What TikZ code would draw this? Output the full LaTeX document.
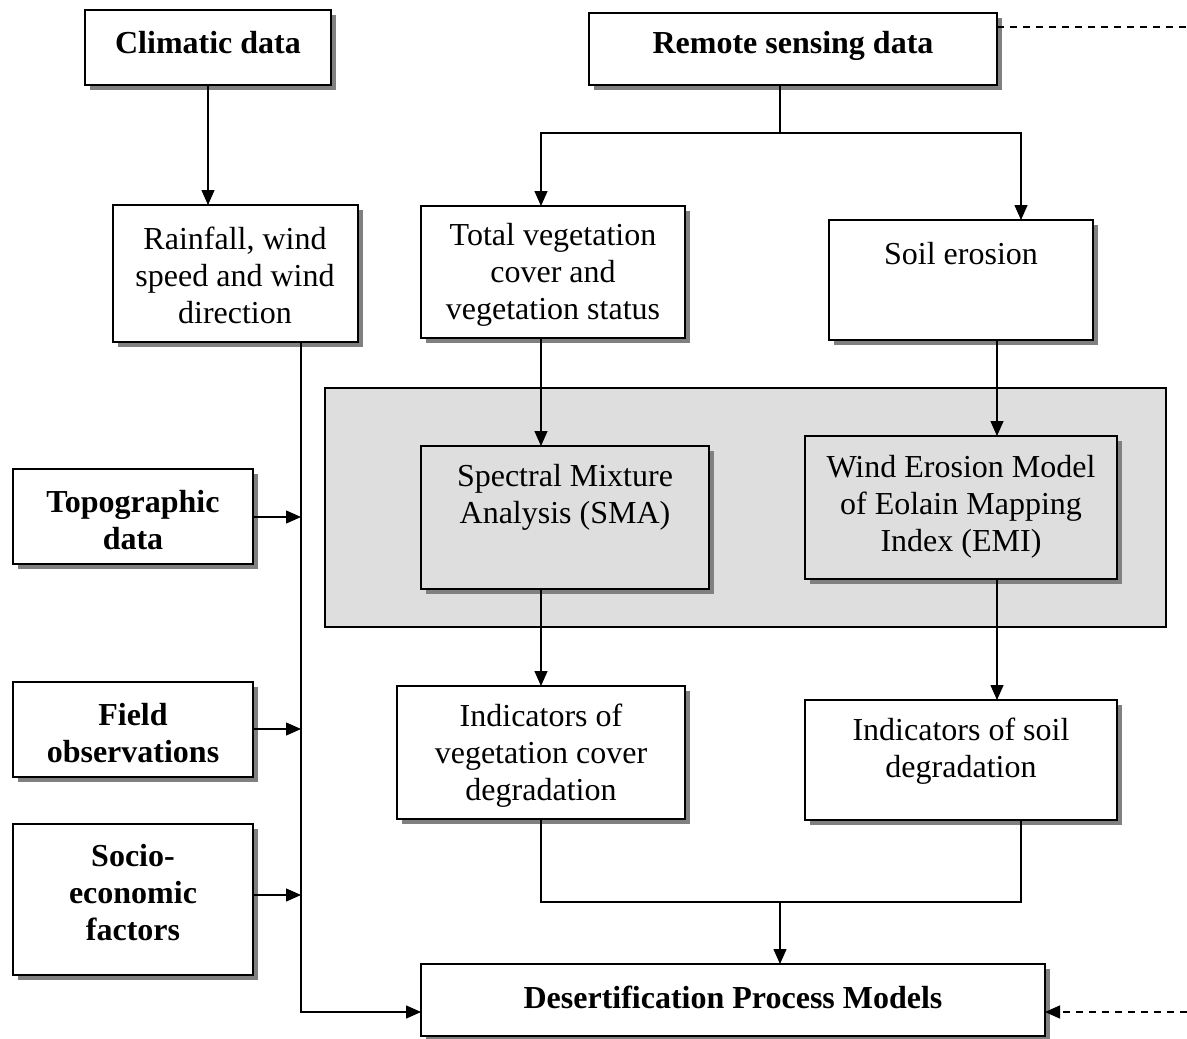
\documentclass[tikz,border=0pt]{standalone}
\usepackage{fontspec}
\setmainfont{Liberation Serif}
\usetikzlibrary{shadows,arrows.meta}
\newcommand{\mybox}[6][]{\node[box, #1, minimum width={(#5-#3)*1pt}, minimum height={(#6-#4)*1pt}] (#2) at ({(#3+#5)/2},{(#4+#6)/2}) {};}
\begin{document}
\begin{tikzpicture}[x=1pt,y=-1pt,
  box/.style={draw=black, line width=1.8pt, fill=white, inner sep=0pt, outer sep=0pt,
    general shadow={fill=black!50, shadow xshift=5pt, shadow yshift=-5pt}},
  panelfill/.style={fill=black!13},
  panel/.style={draw=black, line width=1.8pt, panelfill},
  txt/.style={align=center, inner sep=0pt, font=\fontsize{32}{37}\selectfont},
  btxt/.style={align=center, inner sep=0pt, font=\fontsize{32}{37}\selectfont\bfseries},
  arr/.style={line width=1.3pt, -{Triangle[length=15pt,width=13pt]}},
  ln/.style={line width=1.3pt},
  dsh/.style={line width=1.3pt, dash pattern=on 7pt off 6pt}]
\useasboundingbox (0,0) rectangle (1187,1039);
% panel
\filldraw[panel] (325,388) rectangle (1166,627);
% boxes
\mybox{clim}{85}{10}{331}{85}
\mybox{rs}{589}{13}{997}{85}
\mybox{rain}{113}{205}{358}{342}
\mybox{tv}{421}{206}{685}{338}
\mybox{se}{829}{220}{1093}{340}
\mybox[panelfill]{sma}{421}{446}{709}{589}
\mybox[panelfill]{emi}{805}{436}{1117}{579}
\mybox{iv}{397}{686}{685}{819}
\mybox{is}{805}{700}{1117}{820}
\mybox{dm}{421}{964}{1045}{1036}
\mybox{topo}{13}{469}{253}{564}
\mybox{field}{13}{682}{253}{777}
\mybox{socio}{13}{824}{253}{975}
% texts
\node[btxt] (tclim) at (208,43) {Climatic data};
\node[btxt] (trs) at (793,46) {Remote sensing data};
\node[txt] (train) at (235,275) {Rainfall, wind\\speed and wind\\direction};
\node[txt] (ttv) at (553,275) {Total vegetation\\cover and\\vegetation status};
\node[txt] (tse) at (961,254) {Soil erosion};
\node[txt] (tsma) at (565,497) {Spectral Mixture\\Analysis (SMA)};
\node[txt] (temi) at (961,507) {Wind Erosion Model\\of Eolain Mapping\\Index (EMI)};
\node[txt] (tiv) at (541,756) {Indicators of\\vegetation cover\\degradation};
\node[txt] (tis) at (961,751) {Indicators of soil\\degradation};
\node[btxt] (tdm) at (733,997) {Desertification Process Models};
\node[btxt] (ttopo) at (133,520) {Topographic\\data};
\node[btxt] (tfield) at (133,733) {Field\\observations};
\node[btxt] (tsocio) at (133,893) {Socio-\\economic\\factors};
% coordinates
\coordinate (c1) at (541,0);
\coordinate (c2) at (997,0);
\coordinate (c3) at (1021,0);
\coordinate (rsj) at (780,133);
\coordinate (trunk) at (301,0);
\coordinate (merge) at (780,902);
\coordinate (dmy) at (0,1012);
\coordinate (rsy) at (0,27);
\coordinate (redge) at (1187,0);
\coordinate (ya) at (0,517);
\coordinate (yb) at (0,729);
\coordinate (yc) at (0,895);
% connectors
\draw[arr] (clim.south) -- (clim.south |- rain.north);
\draw[ln] (rs.south -| rsj) -- (rsj);
\draw[arr] (rsj) -| (tv.north -| c1);
\draw[arr] (rsj) -| (se.north -| c3);
\draw[arr] (tv.south -| c1) -- (sma.north -| c1);
\draw[arr] (se.south -| c2) -- (emi.north -| c2);
\draw[arr] (sma.south -| c1) -- (iv.north -| c1);
\draw[arr] (emi.south -| c2) -- (is.north -| c2);
\draw[ln] (iv.south -| c1) |- (merge) -| (is.south -| c3);
\draw[arr] (merge) -- (dm.north -| merge);
\draw[arr] (rain.south -| trunk) |- (dm.west |- dmy);
\draw[arr] (topo.east |- ya) -- (trunk |- ya);
\draw[arr] (field.east |- yb) -- (trunk |- yb);
\draw[arr] (socio.east |- yc) -- (trunk |- yc);
\draw[dsh] (rs.east |- rsy) -- (redge |- rsy);
\draw[dsh, -{Triangle[length=15pt,width=13pt]}] (redge |- dmy) -- (dm.east |- dmy);
\end{tikzpicture}
\end{document}
